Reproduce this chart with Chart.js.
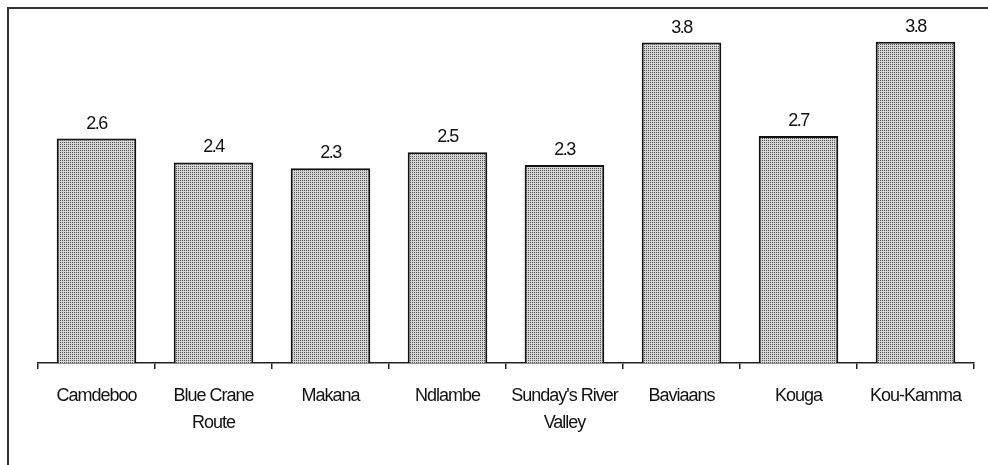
<!DOCTYPE html>
<html>
<head>
<meta charset="utf-8">
<script src="https://cdn.jsdelivr.net/npm/chart.js@4.4.1/dist/chart.umd.min.js"></script>
<style>
    html, body { margin: 0; padding: 0; background: #fff; }
    #wrap { width: 988px; height: 465px; position: relative; }
</style>
</head>
<body>
<div id="wrap"><canvas id="grafico" width="988" height="465"></canvas></div>
<script>
// Datos
const municipios = ["Camdeboo", ["Blue Crane", "Route"], "Makana", "Ndlambe", ["Sunday's River", "Valley"], "Baviaans", "Kouga", "Kou-Kamma"];
const valores = [2.64, 2.36, 2.29, 2.48, 2.33, 3.77, 2.67, 3.78];

const fuente = "'Liberation Sans', Arial, sans-serif";

// Trama punteada para las barras
function crearTrama() {
    const c = document.createElement("canvas");
    c.width = 2;
    c.height = 2;
    const g = c.getContext("2d");
    g.fillStyle = "#d6d6d6";
    g.fillRect(0, 0, 2, 2);
    g.fillStyle = "#505050";
    g.fillRect(0, 0, 1, 1);
    return g.createPattern(c, "repeat");
}

const marco = {
    id: "marco",
    beforeDraw(chart) {
        const ctx = chart.ctx;
        ctx.save();
        ctx.fillStyle = "#fff";
        ctx.fillRect(0, 0, chart.width, chart.height);
        ctx.strokeStyle = "#333";
        ctx.lineWidth = 2;
        ctx.beginPath();
        ctx.moveTo(8, chart.height);
        ctx.lineTo(8, 8);
        ctx.lineTo(chart.width, 8);
        ctx.stroke();
        ctx.restore();
        // texto más apretado, como en el original
        ctx.letterSpacing = "-1px";
    }
};

const etiquetas = {
    id: "etiquetas",
    afterDatasetsDraw(chart) {
        const ctx = chart.ctx;
        const meta = chart.getDatasetMeta(0);
        ctx.save();
        ctx.letterSpacing = "-1.5px";
        ctx.font = "18px " + fuente;
        ctx.fillStyle = "#111";
        ctx.textAlign = "center";
        ctx.textBaseline = "alphabetic";
        meta.data.forEach((bar, i) => {
            ctx.fillText(valores[i].toFixed(1), bar.x, bar.y - 10);
        });
        ctx.restore();
    }
};

const ctx = document.getElementById("grafico").getContext("2d");
new Chart(ctx, {
    type: "bar",
    data: {
        labels: municipios,
        datasets: [{
            data: valores,
            backgroundColor: crearTrama(),
            borderColor: "#111",
            borderWidth: 2,
            borderSkipped: "bottom",
            barPercentage: 0.68,
            categoryPercentage: 1
        }]
    },
    options: {
        responsive: false,
        animation: false,
        layout: { padding: { top: 23, left: 38, right: 14, bottom: 0 } },
        plugins: {
            legend: { display: false },
            tooltip: { enabled: false }
        },
        scales: {
            y: { display: false, min: 0, max: 4 },
            x: {
                afterFit(scale) { scale.height = 102; },
                border: { display: true, color: "#222", width: 1.5 },
                grid: {
                    display: true,
                    drawOnChartArea: false,
                    drawTicks: true,
                    tickLength: 6,
                    color: "#222",
                    lineWidth: 1.5,
                    offset: true
                },
                ticks: {
                    color: "#111",
                    padding: 14,
                    maxRotation: 0,
                    autoSkip: false,
                    font: { family: fuente, size: 18, lineHeight: 1.5 }
                }
            }
        }
    },
    plugins: [marco, etiquetas]
});
</script>
</body>
</html>
